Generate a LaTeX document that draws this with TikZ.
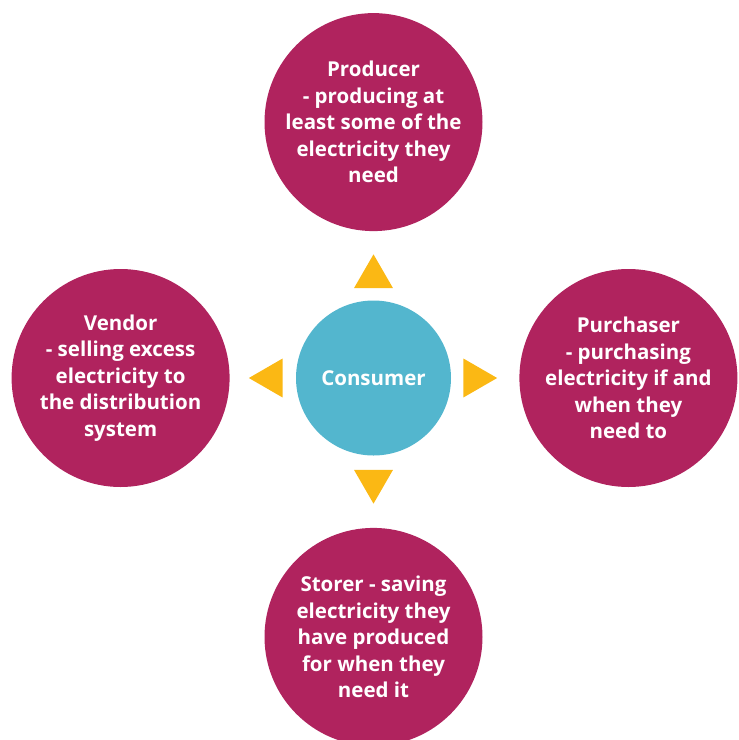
\documentclass[tikz,border=0pt]{standalone}
\usepackage{fontspec}
\setmainfont{Open Sans}
\usetikzlibrary{positioning,shapes.geometric}

\definecolor{rolepink}{RGB}{176,35,94}
\definecolor{consumerblue}{RGB}{83,182,206}
\definecolor{pointeryellow}{RGB}{251,184,20}

\begin{document}
\begin{tikzpicture}
  [
  x=1pt, y=1pt,
  rolenode/.style={circle, fill=rolepink, text=white, minimum size=218pt, inner sep=0pt, align=center, font=\fontsize{20.5}{26.5}\selectfont\bfseries},
  usernode/.style={circle, fill=consumerblue, text=white, minimum size=155pt, inner sep=0pt, font=\fontsize{20.5}{26.5}\selectfont\bfseries},
  pointer/.style={regular polygon, regular polygon sides=3, fill=pointeryellow, minimum size=45pt, inner sep=0pt}
  ]
  \useasboundingbox (0,0) rectangle (739,-740);
  \clip (0,0) rectangle (739,-740);

  \node[usernode] (consumer) at (373.5,-378) {Consumer};

  \node[rolenode, above=69pt of consumer] (producer) {Producer\\- producing at\\least some of the\\electricity they\\need};
  \node[rolenode, left=66pt of consumer] (vendor) {Vendor\\- selling excess\\electricity to\\the distribution\\system};
  \node[rolenode, right=68pt of consumer] (purchaser) {Purchaser\\- purchasing\\electricity if and\\when they\\need to};
  \node[rolenode, below=72pt of consumer] (storer) {Storer - saving\\electricity they\\have produced\\for when they\\need it};

  % little arrowheads around the consumer
  \node[pointer, above=12pt of consumer] (toproducer) {};
  \node[pointer, regular polygon rotate=90, left=13pt of consumer] (tovendor) {};
  \node[pointer, regular polygon rotate=-90, right=12pt of consumer] (topurchaser) {};
  \node[pointer, regular polygon rotate=180, below=14pt of consumer] (tostorer) {};
\end{tikzpicture}
\end{document}
